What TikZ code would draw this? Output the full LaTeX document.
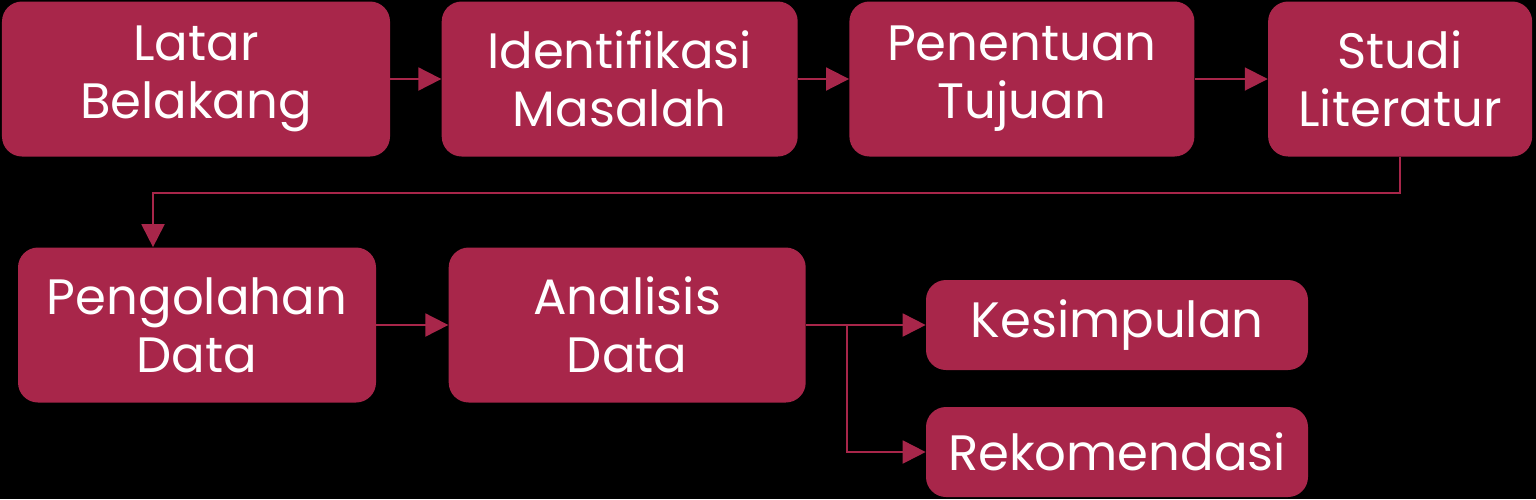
\documentclass[tikz,border=0pt]{standalone}
\usepackage{fontspec}
\setmainfont{Poppins}
\usetikzlibrary{arrows.meta, positioning}
\definecolor{boxred}{HTML}{A8264A}

\begin{document}
\begin{tikzpicture}[
    node distance=1.02cm,
    >={Triangle[length=0.46cm, width=0.46cm]},
    font=\fontsize{28.3}{33}\selectfont,
    base/.style={rectangle, rounded corners=0.4cm, fill=boxred, text=white, align=center, inner sep=0pt},
    tall/.style={base, minimum height=3.1cm},
    flat/.style={base, minimum height=1.8cm, minimum width=7.64cm},
    arrow/.style={->, line width=1.1pt, boxred}
  ]
    \fill[black] (0,0) rectangle (30.72,-9.98);
    \useasboundingbox (0,0) rectangle (30.72,-9.98);
    \node[tall, minimum width=7.76cm] (latar) at (3.92,-1.58) {Latar\\Belakang};
    \node[tall, minimum width=7.12cm, right=of latar] (ident) {Identifikasi\\Masalah};
    \node[tall, minimum width=6.9cm, right=of ident] (tujuan) {Penentuan\\Tujuan};
    \node[tall, minimum width=5.28cm, right=1.46cm of tujuan] (studi) {Studi\\Literatur};
    \node[tall, minimum width=7.16cm] (olah) at (3.94,-6.5) {Pengolahan\\Data};
    \node[tall, minimum width=7.14cm, right=1.44cm of olah] (analisis) {Analisis\\Data};
    \node[flat] (kesim) at (22.34,-6.5) {Kesimpulan};
    \node[flat] (rekom) at (22.34,-9.04) {Rekomendasi};
    \coordinate (bend) at (3.06,-3.86);
    \coordinate (split) at (16.94,-6.5);
    \draw[arrow] (latar) -- (ident);
    \draw[arrow] (ident) -- (tujuan);
    \draw[arrow] (tujuan) -- (studi);
    \draw[arrow] (studi.south) |- (bend) -- (bend |- olah.north);
    \draw[arrow] (olah) -- (analisis);
    \draw[arrow] (analisis.east) -- (kesim.west);
    \draw[arrow] (split) |- (rekom.west);
  \end{tikzpicture}
\end{document}
